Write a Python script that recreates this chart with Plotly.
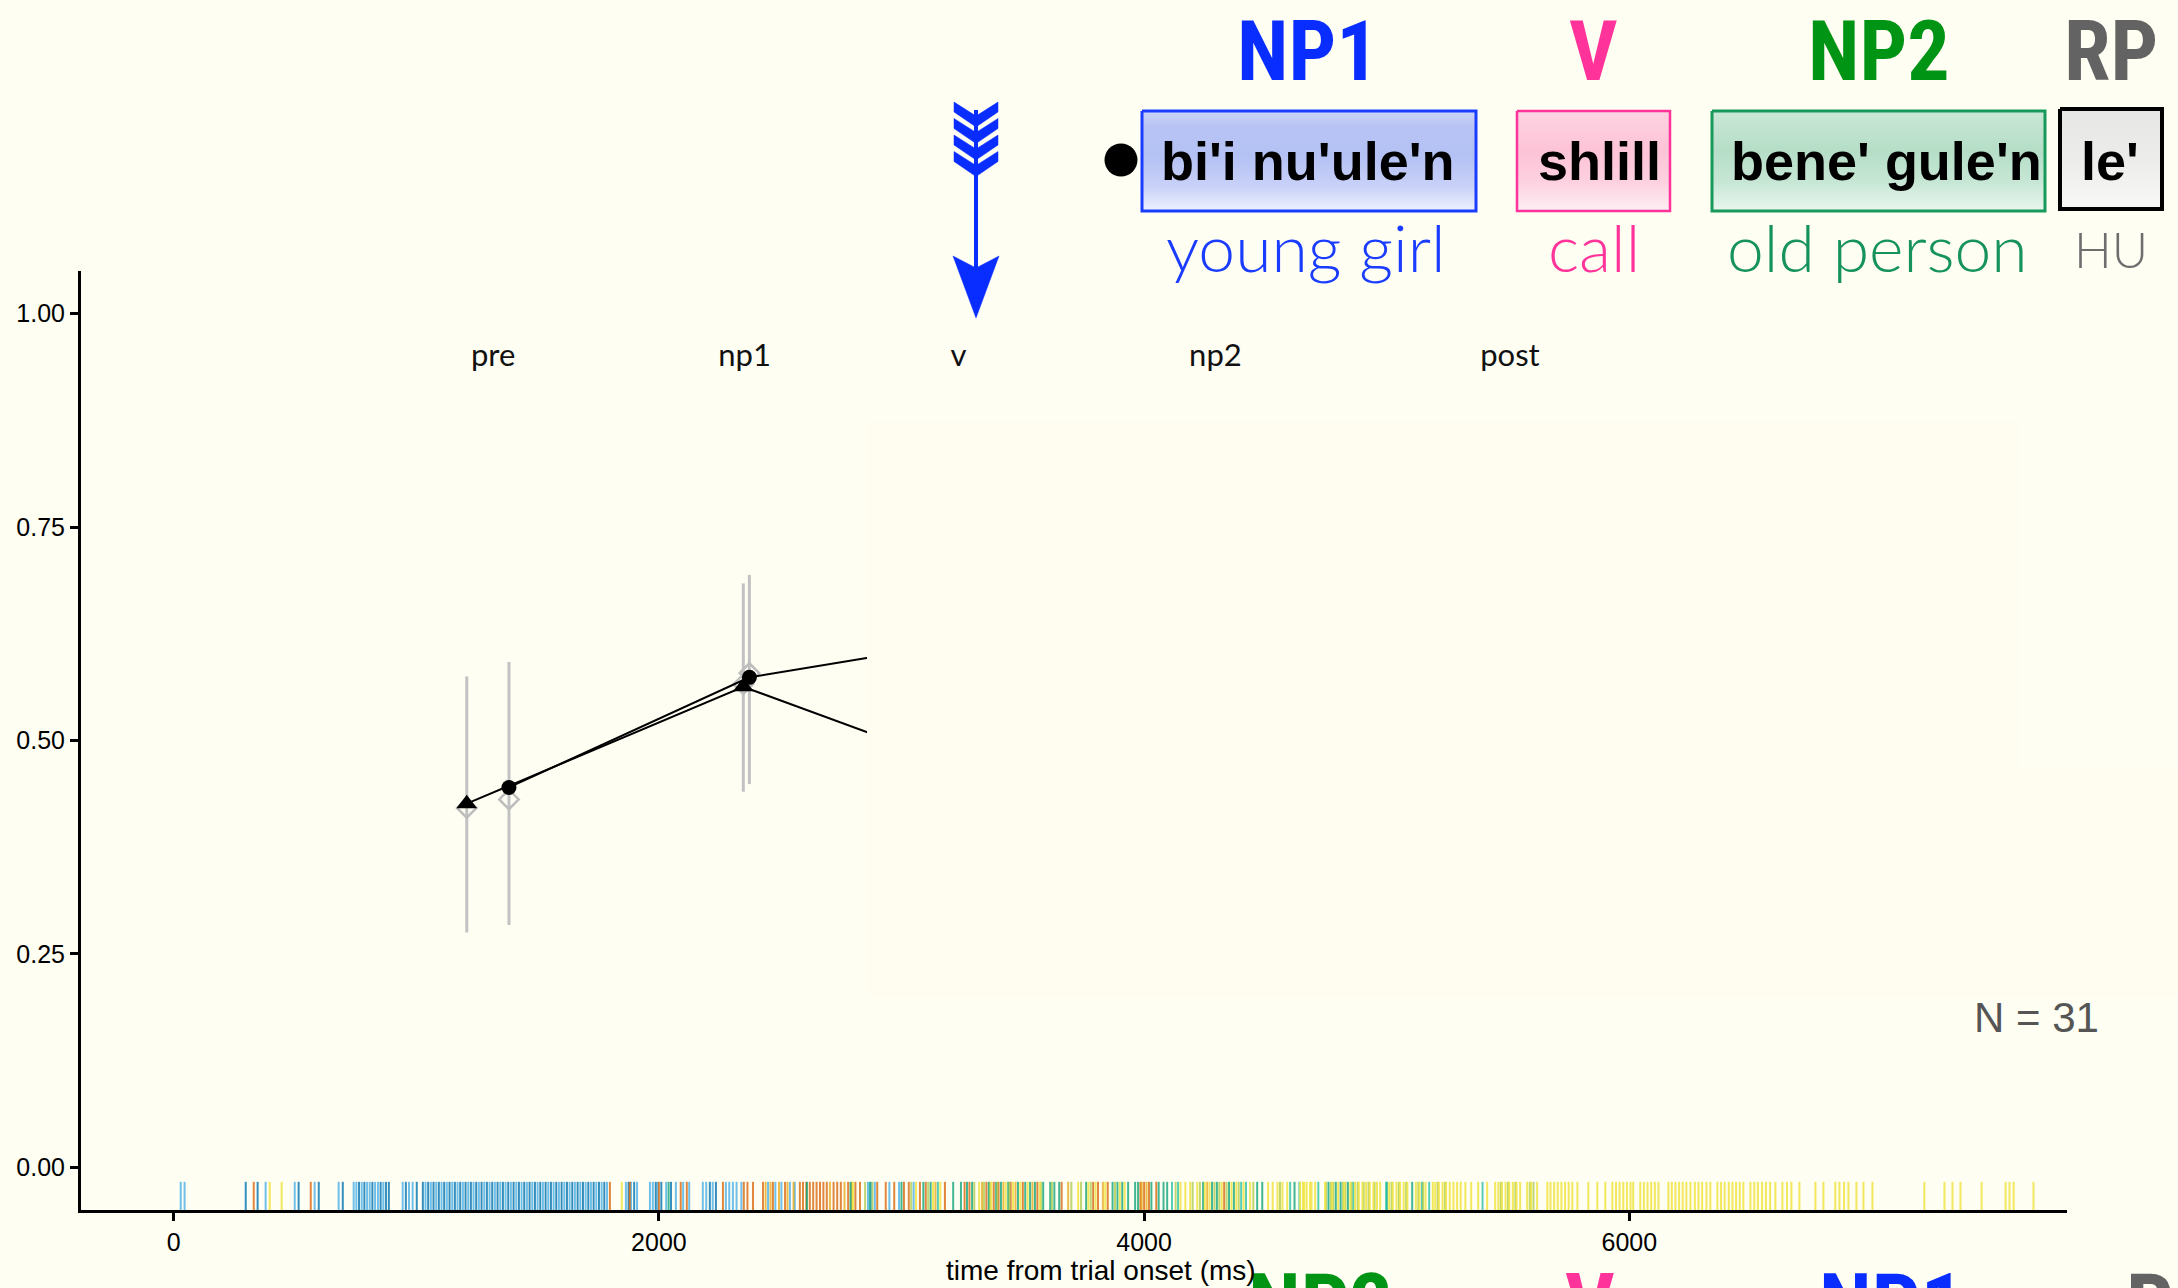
import plotly.graph_objects as go

W, H = 2178, 1288

# ---------------- data ----------------
phase_labels = ["pre", "np1", "v", "np2", "post"]
phase_x = [1317, 2353, 3235, 4294, 5508]
phase_y = [0.948, 0.948, 0.948, 0.948, 0.948]

tri_x = [1208, 2348, 3230]
tri_y = [0.426, 0.563, 0.471]
circ_x = [1382, 2373, 3250]
circ_y = [0.445, 0.574, 0.615]
dia_x = [1208, 1382, 2348, 2373]
dia_y = [0.421, 0.431, 0.566, 0.579]
err_x = [1208, 1382, 2348, 2373]
err_lo = [0.275, 0.284, 0.440, 0.449]
err_hi = [0.575, 0.592, 0.684, 0.694]

x_ticks = [0, 2000, 4000, 6000]
y_ticks = [0.0, 0.25, 0.5, 0.75, 1.0]
y_ticklabels = ["0.00", "0.25", "0.50", "0.75", "1.00"]

rug_blue_light = [29, 45, 379, 499, 581, 680, 742, 753, 775, 797, 808, 830, 842, 864, 944, 970, 985,
                  1038, 1060, 1082, 1104, 1126, 1148, 1170, 1192, 1214, 1236, 1258, 1280, 1302, 1324,
                  1346, 1368, 1390, 1412, 1434, 1456, 1478, 1500, 1522, 1544, 1566, 1588, 1610, 1632,
                  1654, 1676, 1698, 1720, 1742, 1764, 1786, 1864, 1885, 1910, 1963, 1975, 1995, 2030,
                  2070, 2100, 2125, 2181, 2195, 2222, 2276, 2290, 2305, 2320, 2340, 2450, 2480, 2505,
                  2540, 2560, 2862, 2875, 2890, 2950, 2990, 3050]
rug_blue_dark = [297, 346, 515, 598, 697, 764, 786, 819, 853, 875, 887, 957, 1002, 1027, 1049, 1071,
                 1093, 1115, 1137, 1159, 1181, 1203, 1225, 1247, 1269, 1291, 1313, 1335, 1357, 1379,
                 1401, 1423, 1445, 1467, 1489, 1511, 1533, 1555, 1577, 1599, 1621, 1643, 1665, 1687,
                 1709, 1731, 1753, 1775, 1875, 1898, 1987, 2010, 2050, 2210, 2235]
rug_orange = [330, 565, 1798, 1880, 2000, 2090, 2115, 2264, 2350, 2365, 2388, 2429, 2470, 2520, 2581,
              2594, 2608, 2622, 2636, 2650, 2664, 2678, 2692, 2720, 2735, 2750, 2780, 2810, 2829,
              2900, 2935, 2970, 3010, 3030, 3076, 3100, 3179, 3260, 3280, 3350, 3380, 3400, 3450,
              3500, 3560, 3660, 3790, 3810, 3850, 3985, 4000, 4020, 4050, 4330]
rug_amber = [2440, 2460, 2495, 2530, 2555, 2705, 2765, 2795, 3140, 3332, 3420, 3470, 3540, 3687,
             3830, 3990, 4010, 4260]
rug_green = [2040, 2610, 2790, 2870, 3000, 3090, 3120, 3213, 3245, 3270, 3291, 3360, 3390, 3410,
             3440, 3480, 3510, 3530, 3550, 3584, 3613, 3630, 3650, 3761, 3870, 3890, 3910, 3934,
             3963, 3975, 4030, 4060, 4080, 4095, 4243, 4280, 4300, 4350, 4370, 4466, 4487, 4620,
             4760, 4790, 4810, 4840, 5000, 5105]
rug_teal = [3150, 4115, 4140, 4400, 4420, 4602, 4640, 4718, 4862, 4998, 5145, 5175, 5395]
rug_lime = [2850, 2880, 3040, 3110, 3300, 3340, 3365, 3395, 3445, 3575, 3620, 3700, 3740, 3780,
            3880, 4130, 4200, 4230, 4290, 4310, 4340, 4390, 4450, 4560, 4750, 4770, 4780, 4820,
            4830, 4855, 4880, 4905, 4925, 4950, 5020, 5050, 5080, 5130, 5150, 5210, 5240, 5470,
            5500, 5530, 5590, 5605]
rug_yellow = [396, 445, 1847, 2800, 3060, 3130, 3160, 3320, 3370, 3430, 3460, 3490, 3520, 3570,
              3728, 3770, 3800, 3840, 3900, 3920, 4150, 4170, 4190, 4219, 4250, 4270, 4320, 4360,
              4380, 4410, 4437, 4511, 4530, 4550, 4570, 4590, 4643, 4655, 4660, 4670, 4684, 4690,
              4705, 4746, 4775, 4800, 4825, 4850, 4870, 4885, 4900, 4915, 4930, 4945, 4960, 4973,
              5010, 5025, 5040, 5055, 5070, 5085, 5120, 5135, 5160, 5190, 5200, 5215, 5230, 5245,
              5260, 5275, 5290, 5305, 5324, 5348, 5377, 5414, 5447, 5460, 5475, 5490, 5505, 5520,
              5535, 5550, 5579, 5595, 5620, 5662, 5675, 5690, 5705, 5720, 5735, 5750, 5765, 5786,
              5831, 5868, 5901, 5930, 5945, 5960, 5975, 5990, 6005, 6016, 6045, 6060, 6075, 6090,
              6105, 6120, 6161, 6175, 6190, 6205, 6220, 6235, 6252, 6270, 6285, 6300, 6318, 6334,
              6363, 6378, 6393, 6410, 6425, 6440, 6455, 6470, 6499, 6515, 6530, 6547, 6563, 6580,
              6602, 6631, 6650, 6668, 6701, 6767, 6800, 6849, 6866, 6885, 6903, 6936, 6965, 7002,
              7216, 7299, 7332, 7365, 7452, 7551, 7567, 7584, 7666]

header_words = ["NP1", "V", "NP2", "RP"]
header_colors = ["#0a2dff", "#ff3399", "#009414", "#636363"]
words = ["bi'i nu'ule'n", "shlill", "bene' gule'n", "le'"]
glosses = ["young girl", "call", "old person", "HU"]
gloss_colors = ["#1a3cff", "#ff3399", "#15935a", "#6e6e6e"]
bottom_headers = ["NP2", "V", "NP1", "RP"]
bottom_colors = ["#009414", "#ff3399", "#0a2dff", "#636363"]
n_label = "N = 31"
x_title = "time from trial onset (ms)"

# ---------------- layout geometry (pixels) ----------------
PL, PR, PT, PB = 81, 2067, 271, 1210
XR = [-382, 7804]
YR = [-0.05, 1.05]
BG = "#fefef3"
CURTAIN = "#fffcf0"


def py(v):
    return H - v


fig = go.Figure()

# rug
rug_sets = [
    (rug_blue_light, "rgba(86,180,233,0.85)"),
    (rug_blue_dark, "rgba(0,114,178,0.8)"),
    (rug_orange, "rgba(213,94,0,0.75)"),
    (rug_amber, "rgba(230,159,0,0.7)"),
    (rug_green, "rgba(0,158,115,0.75)"),
    (rug_teal, "rgba(30,190,160,0.75)"),
    (rug_lime, "rgba(170,200,70,0.75)"),
    (rug_yellow, "rgba(240,228,66,0.85)"),
]
rug_lo = YR[0]
rug_hi = YR[0] + 0.03 * (YR[1] - YR[0])
for times, col in rug_sets:
    xs, ys = [], []
    for t in times:
        xs += [t, t, None]
        ys += [rug_lo, rug_hi, None]
    fig.add_trace(go.Scatter(x=xs, y=ys, mode="lines", line=dict(color=col, width=2),
                             hoverinfo="skip", showlegend=False))

# error bars
ex, ey = [], []
for x, lo, hi in zip(err_x, err_lo, err_hi):
    ex += [x, x, None]
    ey += [lo, hi, None]
fig.add_trace(go.Scatter(x=ex, y=ey, mode="lines", line=dict(color="#c2c2c2", width=3),
                         hoverinfo="skip", showlegend=False))
fig.add_trace(go.Scatter(x=dia_x, y=dia_y, mode="markers",
                         marker=dict(symbol="diamond-open", size=15, color="#bdbdbd",
                                     line=dict(width=2.5, color="#bdbdbd")),
                         hoverinfo="skip", showlegend=False))
fig.add_trace(go.Scatter(x=tri_x, y=tri_y, mode="lines+markers",
                         line=dict(color="black", width=2),
                         marker=dict(symbol="triangle-up", size=18, color="black"),
                         hoverinfo="skip", showlegend=False))
fig.add_trace(go.Scatter(x=circ_x, y=circ_y, mode="lines+markers",
                         line=dict(color="black", width=2),
                         marker=dict(symbol="circle", size=15, color="black"),
                         hoverinfo="skip", showlegend=False))
fig.add_trace(go.Scatter(x=phase_x, y=phase_y, mode="text", text=phase_labels,
                         textfont=dict(family="Lato", size=31, color="#111111", weight=400),
                         hoverinfo="skip", showlegend=False))

# ---------------- decorations on a full-figure overlay axis ----------------
boxes = [
    (1142, 1476, 111, 211, "#1a3cff", 3,
     [[0, "#eef1fd"], [0.25, "#c8d1f8"], [0.55, "#b4c1f4"], [0.85, "#b8c4f4"], [1, "#cbd3f6"]]),
    (1517, 1670, 111, 211, "#ff3399", 2.5,
     [[0, "#fdeef4"], [0.3, "#fdd0e0"], [0.6, "#fdc3d7"], [1, "#fdd3e2"]]),
    (1712, 2045, 111, 211, "#16995a", 3,
     [[0, "#e9f6ef"], [0.3, "#c6e6d4"], [0.6, "#b5dec7"], [1, "#cae7d6"]]),
    (2060, 2162, 109, 209, "#000000", 4,
     [[0, "#f8f8f6"], [0.5, "#ececea"], [1, "#e6e6e4"]]),
]
for x0, x1, y0, y1, bc, bw, cs in boxes:
    fig.add_trace(go.Scatter(x=[x0, x1, x1, x0, x0], y=[py(y0), py(y0), py(y1), py(y1), py(y0)],
                             mode="lines", fill="toself",
                             fillgradient=dict(type="vertical", colorscale=cs),
                             line=dict(color=bc, width=bw), xaxis="x2", yaxis="y2",
                             hoverinfo="skip", showlegend=False))

# black dot
fig.add_trace(go.Scatter(x=[1121], y=[py(160)], mode="markers",
                         marker=dict(size=33, color="black"), xaxis="x2", yaxis="y2",
                         hoverinfo="skip", showlegend=False))

# arrow
AC = "#0a2dff"
cx = 976
fig.add_trace(go.Scatter(x=[cx, cx], y=[py(110), py(280)], mode="lines",
                         line=dict(color=AC, width=4), xaxis="x2", yaxis="y2",
                         hoverinfo="skip", showlegend=False))
for k in range(4):
    yt = 102 + 16.5 * k
    pts = [(cx - 22, yt), (cx, yt + 14), (cx + 22, yt), (cx + 22, yt + 10), (cx, yt + 25),
           (cx - 22, yt + 10), (cx - 22, yt)]
    fig.add_trace(go.Scatter(x=[p[0] for p in pts], y=[py(p[1]) for p in pts], mode="lines",
                             fill="toself", fillcolor=AC, line=dict(color=AC, width=0.5),
                             xaxis="x2", yaxis="y2", hoverinfo="skip", showlegend=False))
head = [(cx - 23, 256), (cx, 268), (cx + 23, 256), (cx, 318), (cx - 23, 256)]
fig.add_trace(go.Scatter(x=[p[0] for p in head], y=[py(p[1]) for p in head], mode="lines",
                         fill="toself", fillcolor=AC, line=dict(color=AC, width=0.5),
                         xaxis="x2", yaxis="y2", hoverinfo="skip", showlegend=False))

# ---------------- annotations ----------------
ann = []


def add_text(text, x, y, size, color, family, weight="normal", yanchor="middle"):
    ann.append(dict(text=text, x=x / W, y=1 - y / H, xref="paper", yref="paper",
                    xanchor="center", yanchor=yanchor, showarrow=False,
                    font=dict(family=family, size=size, color=color, weight=weight)))


HEAD_FONT = "Liberation Sans Narrow, Roboto Condensed, Liberation Sans"
for t, c, x in zip(header_words, header_colors, [1308, 1593, 1879, 2111]):
    add_text(t, x, 0, 84, c, HEAD_FONT, "bold", yanchor="top")
for t, x in zip(words, [1308, 1600, 1886, 2110]):
    add_text(t, x, 161, 54, "black", "Liberation Sans", "bold")
for t, c, x, s in zip(glosses, gloss_colors, [1306, 1594, 1877, 2111], [66, 66, 66, 50]):
    add_text(t, x, 246 if s > 60 else 249, s, c, "Lato", 300)
for t, c, x in zip(bottom_headers, bottom_colors, [1320, 1590, 1891, 2174]):
    add_text(t, x, 1304, 86, c, HEAD_FONT, "bold")
add_text(n_label, 2036, 1017, 42, "#555555", "Liberation Sans")
add_text(x_title, 1101, 1270, 28, "black", "Liberation Sans")

# curtain covering later samples
shapes = [
    dict(type="rect", xref="paper", yref="paper", x0=867 / W, x1=2018 / W,
         y0=1 - 997 / H, y1=1 - 421 / H, fillcolor=CURTAIN, line=dict(width=0), layer="above"),
    dict(type="rect", xref="paper", yref="paper", x0=2018 / W, x1=1.0,
         y0=1 - 997 / H, y1=1 - 769 / H, fillcolor=CURTAIN, line=dict(width=0), layer="above"),
]

tickfont = dict(family="Liberation Sans", size=25, color="black")
fig.update_layout(
    width=W, height=H, autosize=False,
    margin=dict(l=0, r=0, t=0, b=0),
    paper_bgcolor=BG, plot_bgcolor="rgba(0,0,0,0)",
    showlegend=False, hovermode=False,
    xaxis=dict(domain=[PL / W, PR / W], range=XR, tickvals=x_ticks, ticks="outside",
               ticklen=8, tickwidth=2.5, tickcolor="black", showline=True, linewidth=3,
               linecolor="black", showgrid=False, zeroline=False, tickfont=tickfont,
               anchor="y", automargin=False),
    yaxis=dict(domain=[(H - PB) / H, (H - PT) / H], range=YR, tickvals=y_ticks,
               ticktext=y_ticklabels, ticks="outside", ticklen=8, tickwidth=2.5,
               tickcolor="black", showline=True, linewidth=3, linecolor="black",
               showgrid=False, zeroline=False, tickfont=tickfont, anchor="x",
               automargin=False),
    xaxis2=dict(domain=[0, 1], range=[0, W], visible=False, anchor="y2", fixedrange=True),
    yaxis2=dict(domain=[0, 1], range=[0, H], visible=False, anchor="x2", fixedrange=True),
    annotations=ann,
    shapes=shapes,
)

fig.write_html("out.html", config={"displayModeBar": False},
               post_script="document.body.style.margin='0';document.body.style.background='%s';" % BG)
